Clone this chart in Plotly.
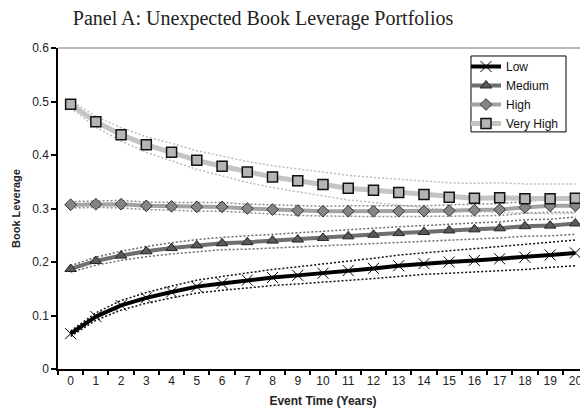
import plotly.graph_objects as go

years = [str(i) for i in range(21)]

low = [0.066, 0.098, 0.119, 0.133, 0.144, 0.154, 0.160, 0.166, 0.171, 0.175, 0.179,
       0.184, 0.188, 0.193, 0.197, 0.200, 0.203, 0.206, 0.209, 0.213, 0.217]
low_up = [0.071, 0.105, 0.128, 0.143, 0.155, 0.166, 0.173, 0.180, 0.186, 0.191, 0.196,
          0.202, 0.207, 0.213, 0.217, 0.221, 0.225, 0.228, 0.232, 0.236, 0.241]
low_lo = [0.061, 0.091, 0.110, 0.123, 0.133, 0.142, 0.147, 0.152, 0.156, 0.159, 0.162,
          0.166, 0.169, 0.173, 0.177, 0.179, 0.181, 0.184, 0.186, 0.190, 0.193]

medium = [0.187, 0.202, 0.212, 0.220, 0.226, 0.231, 0.235, 0.237, 0.240, 0.242, 0.245,
          0.248, 0.251, 0.254, 0.256, 0.259, 0.261, 0.263, 0.267, 0.268, 0.272]
med_up = [0.193, 0.209, 0.220, 0.229, 0.236, 0.242, 0.246, 0.249, 0.252, 0.254, 0.257,
          0.260, 0.263, 0.266, 0.268, 0.271, 0.273, 0.275, 0.279, 0.280, 0.284]
med_lo = [0.181, 0.194, 0.203, 0.210, 0.215, 0.219, 0.223, 0.224, 0.226, 0.228, 0.230,
          0.232, 0.235, 0.237, 0.239, 0.241, 0.243, 0.245, 0.248, 0.249, 0.252]

high = [0.307, 0.308, 0.308, 0.305, 0.304, 0.303, 0.303, 0.300, 0.298, 0.296, 0.295,
        0.295, 0.295, 0.295, 0.295, 0.296, 0.297, 0.298, 0.302, 0.305, 0.305]
high_up = [0.313, 0.314, 0.315, 0.312, 0.311, 0.311, 0.311, 0.308, 0.307, 0.305, 0.304,
           0.305, 0.305, 0.305, 0.305, 0.307, 0.308, 0.309, 0.313, 0.317, 0.317]
high_lo = [0.301, 0.302, 0.301, 0.298, 0.297, 0.295, 0.295, 0.292, 0.289, 0.287, 0.286,
           0.285, 0.285, 0.285, 0.285, 0.285, 0.286, 0.287, 0.291, 0.293, 0.293]

vhigh = [0.495, 0.462, 0.438, 0.419, 0.405, 0.390, 0.379, 0.368, 0.359, 0.352, 0.345,
         0.338, 0.334, 0.330, 0.326, 0.321, 0.319, 0.320, 0.318, 0.318, 0.319]
vh_up = [0.502, 0.472, 0.451, 0.434, 0.422, 0.408, 0.398, 0.388, 0.380, 0.374, 0.368,
         0.362, 0.358, 0.355, 0.352, 0.348, 0.347, 0.348, 0.346, 0.346, 0.346]
vh_lo = [0.488, 0.452, 0.426, 0.405, 0.389, 0.373, 0.361, 0.349, 0.339, 0.331, 0.323,
         0.316, 0.311, 0.306, 0.301, 0.297, 0.294, 0.293, 0.291, 0.290, 0.291]

y_ticks = [0, 0.1, 0.2, 0.3, 0.4, 0.5, 0.6]
y_tick_text = ["0", "0.1", "0.2", "0.3", "0.4", "0.5", "0.6"]

fig = go.Figure()

bands = [
    (vh_up, "#bdbdbd"), (vh_lo, "#bdbdbd"),
    (high_up, "#8c8c8c"), (high_lo, "#8c8c8c"),
    (med_up, "#6a6a6a"), (med_lo, "#6a6a6a"),
    (low_up, "#111111"), (low_lo, "#111111"),
]
for vals, col in bands:
    fig.add_trace(go.Scatter(x=years, y=vals, mode="lines", showlegend=False,
                             hoverinfo="skip",
                             line=dict(color=col, width=1.5, dash="2px,2px")))

fig.add_trace(go.Scatter(
    x=years, y=low, name="Low", mode="lines+markers",
    line=dict(color="#000000", width=4),
    marker=dict(symbol="x-thin", size=11, color="#000000",
                line=dict(color="#000000", width=1))))
fig.add_trace(go.Scatter(
    x=years, y=medium, name="Medium", mode="lines+markers",
    line=dict(color="#6e6e6e", width=4),
    marker=dict(symbol="triangle-up", size=10, color="#5a5a5a",
                line=dict(color="#222222", width=1))))
fig.add_trace(go.Scatter(
    x=years, y=high, name="High", mode="lines+markers",
    line=dict(color="#a3a3a3", width=4),
    marker=dict(symbol="diamond", size=9, color="#858585",
                line=dict(color="#333333", width=1))))
fig.add_trace(go.Scatter(
    x=years, y=vhigh, name="Very High", mode="lines+markers",
    line=dict(color="#c4c4c4", width=5),
    marker=dict(symbol="square", size=10, color="#b5b5b5",
                line=dict(color="#111111", width=1.5))))

# page has an 8px body margin; figure coordinates are offset accordingly
W, H = 580, 411
L, T, B = 50, 40, 49.6
pw, ph = W - L, H - T - B

def px_to_paper_x(px):
    return (px - L) / pw

def px_to_paper_y(py):
    return (H - B - py) / ph

fig.update_layout(
    width=W, height=H,
    margin=dict(l=L, r=0, t=T, b=B, autoexpand=False),
    paper_bgcolor="white", plot_bgcolor="white",
    font=dict(family="Liberation Sans, Arial, sans-serif", size=12, color="#222222"),
    title=dict(text="Panel A: Unexpected Book Leverage Portfolios",
               x=255 / W, xanchor="center", xref="container",
               y=1 - 10 / H, yanchor="middle", yref="container",
               font=dict(family="Liberation Serif, serif", size=20, color="#222222")),
    showlegend=True,
    legend=dict(x=px_to_paper_x(458), y=px_to_paper_y(44), xanchor="left", yanchor="top",
                bgcolor="rgba(0,0,0,0)", borderwidth=0,
                font=dict(family="Liberation Sans, Arial, sans-serif", size=12, color="#111111"),
                tracegroupgap=0, itemwidth=30),
    xaxis=dict(type="category", tickson="boundaries", range=[-0.5, 20.5],
               automargin=False,
               showline=True, linecolor="#000000", linewidth=1.5,
               ticks="outside", ticklen=4, tickcolor="#000000", tickwidth=1.5,
               showgrid=False, zeroline=False,
               tickfont=dict(size=12, color="#222222"),
               title=dict(text="<b>Event Time (Years)</b>", standoff=9,
                          font=dict(size=12, color="#222222"))),
    yaxis=dict(range=[0, 0.6], tickvals=y_ticks, ticktext=y_tick_text,
               automargin=False,
               showline=True, linecolor="#000000", linewidth=1.5,
               ticks="outside", ticklen=5, tickcolor="#000000", tickwidth=1.5,
               showgrid=False, zeroline=False,
               tickfont=dict(size=12, color="#222222"),
               title=dict(text="<b>Book Leverage</b>", standoff=9,
                          font=dict(size=11, color="#222222"))),
    shapes=[
        dict(type="line", xref="paper", yref="paper", x0=0, x1=1, y0=1, y1=1,
             line=dict(color="#a0a0a0", width=1.5)),
        dict(type="rect", xref="paper", yref="paper", layer="above",
             x0=px_to_paper_x(463), x1=px_to_paper_x(558),
             y0=px_to_paper_y(124), y1=px_to_paper_y(48),
             fillcolor="white", line=dict(color="#000000", width=1)),
    ],
)

fig.write_html("out.html")
